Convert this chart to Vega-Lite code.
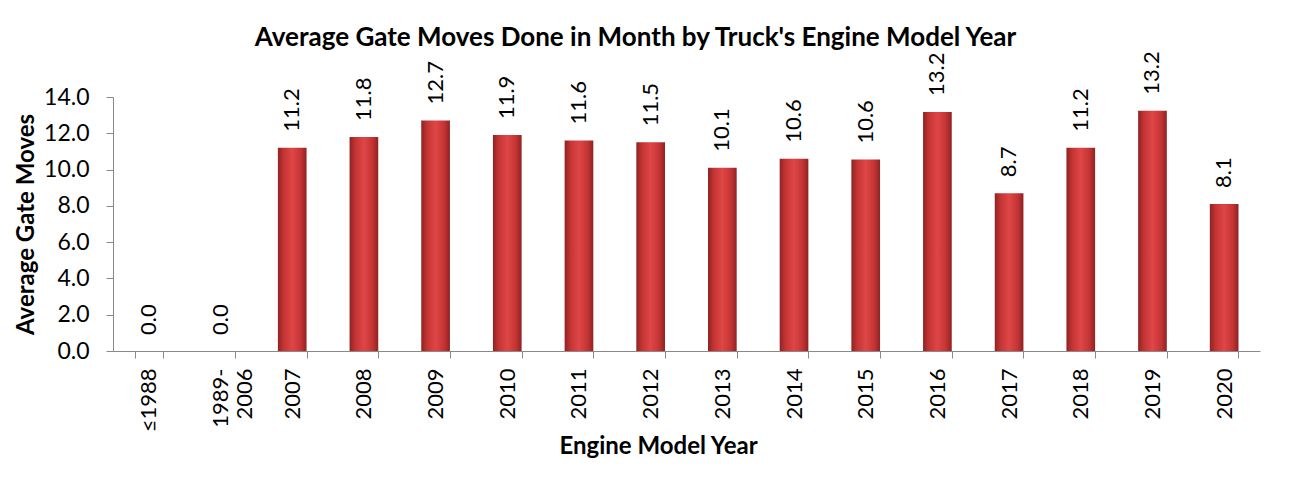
{
  "$schema": "https://vega.github.io/schema/vega-lite/v6.json",
  "autosize": "none",
  "width": 1147,
  "height": 254,
  "padding": {"left": 113, "top": 97, "right": 49, "bottom": 127},
  "background": "white",
  "title": {
    "text": "Average Gate Moves Done in Month by Truck's Engine Model Year",
    "font": "Lato",
    "fontSize": 26,
    "fontWeight": "bold",
    "color": "black",
    "anchor": "middle",
    "frame": "group",
    "dx": -51,
    "offset": 0
  },
  "data": {
    "values": [
      {"year": "≤1988", "moves": 0},
      {"year": "1989-\n2006", "moves": 0},
      {"year": "2007", "moves": 11.2},
      {"year": "2008", "moves": 11.8},
      {"year": "2009", "moves": 12.7},
      {"year": "2010", "moves": 11.9},
      {"year": "2011", "moves": 11.6},
      {"year": "2012", "moves": 11.5},
      {"year": "2013", "moves": 10.1},
      {"year": "2014", "moves": 10.6},
      {"year": "2015", "moves": 10.55},
      {"year": "2016", "moves": 13.17},
      {"year": "2017", "moves": 8.7},
      {"year": "2018", "moves": 11.2},
      {"year": "2019", "moves": 13.24},
      {"year": "2020", "moves": 8.1}
    ]
  },
  "encoding": {
    "x": {
      "field": "year",
      "type": "nominal",
      "sort": null,
      "scale": {"paddingInner": 0.6, "paddingOuter": 0.3},
      "axis": {
        "title": "Engine Model Year",
        "titleFont": "Lato",
        "titleFontSize": 24,
        "titleFontWeight": "bold",
        "titleColor": "black",
        "titlePadding": 3,
        "titleX": 545,
        "labelAngle": -90,
        "labelAlign": "right",
        "labelBaseline": "middle",
        "labelFont": "Lato",
        "labelFontSize": 22,
        "labelColor": "black",
        "labelPadding": 10,
        "labelExpr": "split(datum.label, '\\n')",
        "labelLineHeight": 24,
        "tickBand": "extent",
        "tickSize": 7,
        "tickColor": "#898989",
        "domainColor": "#898989",
        "grid": false
      }
    },
    "y": {
      "field": "moves",
      "type": "quantitative",
      "scale": {"domain": [0, 14], "nice": false},
      "axis": {
        "title": "Average Gate Moves",
        "titleFont": "Lato",
        "titleFontSize": 24,
        "titleFontWeight": "bold",
        "titleColor": "black",
        "titlePadding": 5,
        "values": [0, 2, 4, 6, 8, 10, 12, 14],
        "format": ".1f",
        "labelFont": "Lato",
        "labelFontSize": 23,
        "labelColor": "black",
        "labelPadding": 17,
        "tickSize": 7,
        "tickColor": "#898989",
        "domainColor": "#898989",
        "grid": false
      }
    }
  },
  "layer": [
    {
      "mark": {
        "type": "bar",
        "color": {
          "gradient": "linear",
          "x1": 0, "x2": 1, "y1": 0, "y2": 0,
          "stops": [
            {"offset": 0, "color": "#8f2222"},
            {"offset": 0.2, "color": "#c43434"},
            {"offset": 0.5, "color": "#df4646"},
            {"offset": 0.8, "color": "#c43434"},
            {"offset": 1, "color": "#8f2222"}
          ]
        }
      }
    },
    {
      "mark": {
        "type": "text",
        "angle": -90,
        "align": "left",
        "baseline": "middle",
        "dx": 16,
        "font": "Lato",
        "fontSize": 22,
        "color": "black"
      },
      "encoding": {
        "text": {"field": "moves", "type": "quantitative", "format": ".1f"}
      }
    }
  ],
  "config": {"view": {"stroke": null}}
}
